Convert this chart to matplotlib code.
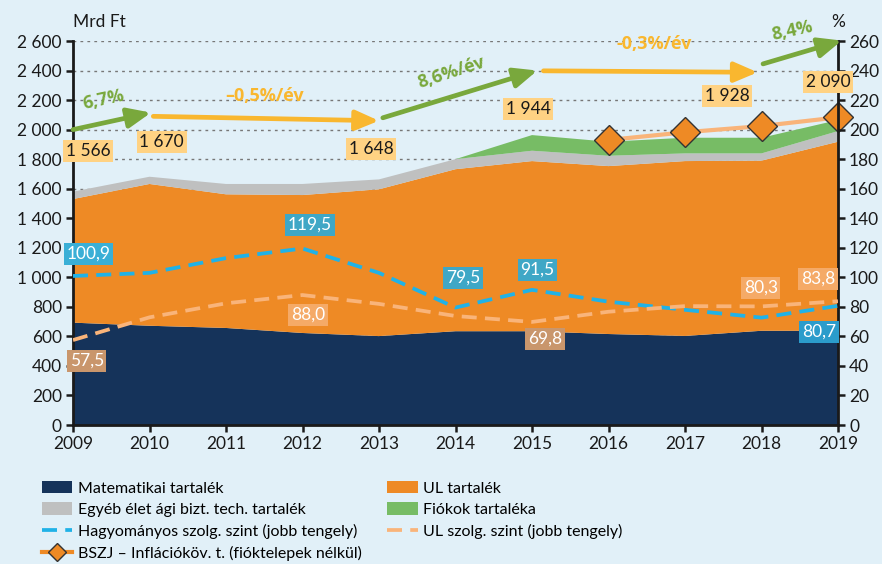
import matplotlib.pyplot as plt
from matplotlib.lines import Line2D
import numpy as np

plt.rcParams['font.family'] = ['Lato', 'DejaVu Sans']

years = [2009, 2010, 2011, 2012, 2013, 2014, 2015, 2016, 2017, 2018, 2019]

# Mrd Ft, stacked layers
matematikai = [693, 672, 657, 623, 602, 635, 635, 616, 603, 638, 638]
ul_tartalek = [837, 960, 905, 934, 994, 1097, 1152, 1137, 1184, 1152, 1280]
egyeb = [50, 49, 70, 75, 67, 68, 70, 70, 52, 49, 72]
fiokok = [0, 0, 0, 0, 0, 0, 106, 95, 106, 106, 75]

# BSZJ (Mrd Ft), only from 2016
bszj_years = [2016, 2017, 2018, 2019]
bszj = [1930, 1982, 2024, 2083]

# right axis, %
hagyomanyos = [100.9, 103.0, 113.0, 119.5, 103.0, 79.5, 91.5, 83.5, 78.0, 72.7, 80.7]
ul_szolg = [57.5, 72.9, 82.4, 88.0, 82.0, 73.8, 69.8, 76.7, 80.5, 80.3, 83.8]

# value boxes
yellow_labels = ['1 566', '1 670', '1 648', '1 944', '1 928', '2 090']
yellow_pos = [(2009.2, 1855), (2010.16, 1916), (2012.9, 1869), (2014.95, 2139), (2017.55, 2227), (2018.87, 2322)]
blue_labels = ['100,9', '119,5', '79,5', '91,5', '80,7']
blue_pos = [(2009.2, 115.8), (2012.1, 135.4), (2014.1, 99.5), (2015.07, 104.9), (2018.75, 63.0)]
blue_box = ['#3AAFD6', '#3FA7C6', '#3FA7C6', '#3FA7C6', '#2B9CCB']
orange_labels = ['57,5', '88,0', '69,8', '80,3', '83,8']
orange_pos = [(2009.18, 43.3), (2012.07, 74.5), (2015.17, 58.2), (2017.99, 92.8), (2018.74, 98.8)]
orange_box = ['#C9966C', '#F5AA67', '#C9966C', '#F5AA67', '#F5AA67']

# growth arrows: (start, end, text, text pos, rotation, colour)
green = '#79A83C'
gold = '#F9B72F'
arrows = [
    ((2009.0, 2000), (2010.02, 2115), '6,7%', (2009.4, 2205), 12, green),
    ((2010.05, 2090), (2013.0, 2060), '\u20130,5%/év', (2011.5, 2230), 0, gold),
    ((2013.05, 2080), (2015.07, 2400), '8,6%/év', (2013.95, 2385), 18, green),
    ((2015.15, 2398), (2017.95, 2388), '-0,3%/év', (2016.6, 2580), 0, gold),
    ((2018.02, 2445), (2019.05, 2603), '8,4%', (2018.4, 2668), 12, green),
]

bg = '#E1F0F8'
navy = '#15335A'
orange = '#EE8A25'
grey = '#BFC0C0'
lgreen = '#77BC65'
blue = '#20B2E7'
lorange = '#F9B47A'

fig = plt.figure(figsize=(8.82, 5.64), dpi=100)
fig.patch.set_facecolor(bg)
ax = fig.add_axes([73/882, 139/564, 765/882, 384/564])
ax.set_facecolor(bg)

polys = ax.stackplot(years, matematikai, ul_tartalek, egyeb, fiokok,
                     colors=[navy, orange, grey, lgreen], zorder=2)
bszj_label = 'BSZJ \u2013 Inflációköv. t. (fióktelepek nélkül)'
ax.plot(bszj_years, bszj, color=lorange, lw=3, marker='D', markersize=15,
        markerfacecolor=orange, markeredgecolor='#333333', markeredgewidth=1,
        zorder=5, clip_on=False)

ax.set_xlim(2009, 2019)
ax.set_ylim(0, 2600)
ax.set_yticks(range(0, 2601, 200))
ax.set_yticklabels(['{:,}'.format(v).replace(',', ' ') for v in range(0, 2601, 200)])
ax.set_xticks(years)
ax.grid(axis='y', color='#777777', ls=(0, (2, 3)), lw=1, zorder=0)
ax.set_axisbelow(True)
for s in ['top', 'right']:
    ax.spines[s].set_visible(False)
for s in ['left', 'bottom']:
    ax.spines[s].set_linewidth(2)
    ax.spines[s].set_color('#1a1a1a')
ax.tick_params(axis='both', direction='out', length=5, width=1.8, labelsize=12.5,
               colors='#1a1a1a', pad=3)

ax2 = ax.twinx()
ax2.set_ylim(0, 260)
ax2.set_yticks(range(0, 261, 20))
l1, = ax2.plot(years, hagyomanyos, color=blue, lw=2.7, ls=(0, (4, 2.2)), zorder=3)
l2, = ax2.plot(years, ul_szolg, color=lorange, lw=2.7, ls=(0, (4, 2.2)), zorder=3)
for s in ['top', 'left', 'bottom']:
    ax2.spines[s].set_visible(False)
ax2.spines['right'].set_linewidth(2)
ax2.spines['right'].set_color('#1a1a1a')
ax2.tick_params(axis='y', direction='out', length=5, width=1.8, labelsize=12.5,
                colors='#1a1a1a', pad=3)

for t, (x, y), c in zip(blue_labels, blue_pos, blue_box):
    ax2.text(x, y, t, ha='center', va='center', fontsize=12.5, color='white', zorder=6,
             bbox=dict(boxstyle='square,pad=0.15', fc=c, ec='none'))
for t, (x, y), c in zip(orange_labels, orange_pos, orange_box):
    ax2.text(x, y, t, ha='center', va='center', fontsize=12.5, color='white', zorder=6,
             bbox=dict(boxstyle='square,pad=0.15', fc=c, ec='none'))


def to_right(p):
    return ax2.transData.inverted().transform(ax.transData.transform(p))


for t, p in zip(yellow_labels, yellow_pos):
    q = to_right(p)
    ax2.text(q[0], q[1], t, ha='center', va='center', fontsize=12.5, color='#1a1a1a', zorder=6,
             bbox=dict(boxstyle='square,pad=0.15', fc='#FFD283', ec='none'))

for start, end, txt, tpos, rot, col in arrows:
    ax2.annotate('', xy=to_right(end), xytext=to_right(start),
                 arrowprops=dict(arrowstyle='-|>,head_length=0.7,head_width=0.3',
                                 color=col, lw=3.4, shrinkA=0, shrinkB=0,
                                 mutation_scale=20),
                 annotation_clip=False, zorder=7)
    t2 = to_right(tpos)
    ax2.text(t2[0], t2[1], txt, ha='center', va='center', fontsize=13, fontweight='bold',
             family=['Open Sans', 'DejaVu Sans'],
             color=col, rotation=rot, zorder=7, clip_on=False)

fig.text(73/882, 1 - 22/564, 'Mrd Ft', ha='left', va='center', fontsize=12.5, color='#1a1a1a')
fig.text(838/882, 1 - 22/564, '%', ha='center', va='center', fontsize=12.5, color='#1a1a1a')

bproxy = Line2D([], [], color=orange, lw=3, marker='D', markersize=9,
                markerfacecolor=orange, markeredgecolor='#333333', markeredgewidth=1)
handles = [polys[0], polys[2], l1, bproxy, polys[1], polys[3], l2]
labels = ['Matematikai tartalék', 'Egyéb élet ági bizt. tech. tartalék',
          'Hagyományos szolg. szint (jobb tengely)', bszj_label,
          'UL tartalék', 'Fiókok tartaléka', 'UL szolg. szint (jobb tengely)']
fig.legend(handles=handles, labels=labels, ncol=2,
           loc='upper left', bbox_to_anchor=(42/882, 1 - 481/564), frameon=False,
           fontsize=11.5, handlelength=1.9, handleheight=0.8, labelspacing=0.42,
           columnspacing=1.6, handletextpad=0.35, borderaxespad=0, borderpad=0)

fig.savefig('out.png', dpi=100, facecolor=bg)
